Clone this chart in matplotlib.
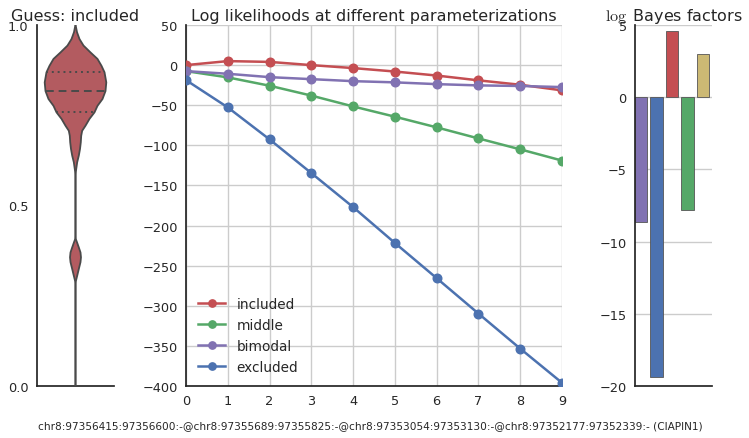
import matplotlib
matplotlib.use("Agg")
import matplotlib.pyplot as plt
import numpy as np

# ---------------- data ----------------
# violin (Guess: included) profile: y positions and relative half-widths (max = 1)
violin_y = [0.0, 0.285, 0.292, 0.3055, 0.324, 0.343, 0.3565, 0.370, 0.384, 0.398, 0.407, 0.415,
            0.585, 0.592, 0.601, 0.620, 0.638, 0.6565, 0.675, 0.693, 0.707, 0.721, 0.740,
            0.758, 0.776, 0.795, 0.817, 0.841, 0.869, 0.887, 0.906, 0.924, 0.943, 0.961,
            0.980, 0.994, 1.0]
violin_w = [0.0, 0.0, 0.016, 0.055, 0.107, 0.162, 0.178, 0.162, 0.107, 0.049, 0.010, 0.0,
            0.0, 0.010, 0.023, 0.055, 0.107, 0.146, 0.172, 0.185, 0.217, 0.325, 0.455,
            0.617, 0.714, 0.877, 0.974, 1.0, 0.942, 0.844, 0.714, 0.487, 0.260, 0.130,
            0.049, 0.016, 0.0]
violin_median = 0.817
violin_quartiles = [0.758, 0.869]

x_params = list(range(10))
series_names = ["included", "middle", "bimodal", "excluded"]
included = [0, 5, 4, 0, -3.7, -8, -13, -19, -24.5, -31.5]
middle = [-7.5, -15.3, -25.7, -38, -51.5, -64.3, -77.6, -91.4, -105, -119]
bimodal = [-7.5, -10.8, -15, -17.5, -20, -21.5, -23.7, -25.3, -26, -27.4]
excluded = [-18.7, -52.7, -92.6, -134.6, -177, -221.7, -265.6, -309.7, -353.4, -396]
series_values = [included, middle, bimodal, excluded]

bayes_factors = [-8.64, -19.4, 4.6, -7.8, 3.0]

gene_label = ("chr8:97356415:97356600:-@chr8:97355689:97355825:-@chr8:97353054:97353130:-"
              "@chr8:97352177:97352339:- (CIAPIN1)")

# ---------------- style ----------------
plt.rcParams['font.family'] = ['DejaVu Sans']
plt.rcParams['mathtext.fontset'] = 'cm'
text_color = '#262626'
spine_color = '#262626'
grid_color = '#cccccc'

red = '#C44E52'
green = '#55A868'
purple = '#8172B2'
blue = '#4C72B0'
yellow = '#CCB974'
line_colors = [red, green, purple, blue]
bar_colors = [purple, blue, red, green, yellow]

W, H = 749, 439
fig = plt.figure(figsize=(W / 100, H / 100), dpi=100)


def box(x0, x1, ytop, ybot):
    return [x0 / W, (H - ybot) / H, (x1 - x0) / W, (ybot - ytop) / H]


ax1 = fig.add_axes(box(37, 114, 26, 387))
ax2 = fig.add_axes(box(186, 562, 26, 387))
ax3 = fig.add_axes(box(635, 712, 26, 387))

tick_fs = 9.3
title_fs = 11.5

for ax in (ax1, ax2, ax3):
    for s in ('top', 'right'):
        ax.spines[s].set_visible(False)
    for s in ('left', 'bottom'):
        ax.spines[s].set_color(spine_color)
        ax.spines[s].set_linewidth(1.25)
    ax.tick_params(length=0, labelsize=tick_fs, colors=text_color, pad=6)
    ax.set_facecolor('white')

# ---------------- violin ----------------
vy = np.array(violin_y)
vw = np.array(violin_w) * 0.4
violin_fill = '#B35B60'
edge = '#4a4a4a'
ax1.fill_betweenx(vy, -vw, vw, facecolor=violin_fill, edgecolor='none', zorder=2)
ax1.plot(-vw, vy, color=edge, lw=1.3, zorder=3)
ax1.plot(vw, vy, color=edge, lw=1.3, zorder=3)
hw = np.interp(violin_median, vy, vw)
ax1.plot([-hw, hw], [violin_median] * 2, color=edge, lw=1.4, ls=(0, (4, 2.5)), zorder=4)
for q in violin_quartiles:
    hq = np.interp(q, vy, vw)
    ax1.plot([-hq, hq], [q] * 2, color=edge, lw=1.4, ls=(0, (1, 2)), zorder=4)
ax1.set_xlim(-0.5, 0.5)
ax1.set_ylim(0, 1)
ax1.set_yticks([0.0, 0.5, 1.0])
ax1.set_yticklabels(['0.0', '0.5', '1.0'])
ax1.set_xticks([])
ax1.set_title('Guess: included', fontsize=title_fs, color=text_color, pad=3.5)

# ---------------- log likelihoods ----------------
ax2.grid(True, color=grid_color, lw=1, zorder=0)
ax2.set_axisbelow(True)
for name, vals, c in zip(series_names, series_values, line_colors):
    ax2.plot(x_params, vals, color=c, lw=1.8, marker='o', markersize=6.2,
             label=name, zorder=3)
ax2.set_xlim(0, 9)
ax2.set_ylim(-400, 50)
ax2.set_xticks(x_params)
ax2.set_yticks(np.arange(-400, 51, 50))
ax2.set_yticklabels([str(v).replace('-', '\u2212') for v in range(-400, 51, 50)])
ax2.set_title('Log likelihoods at different parameterizations', fontsize=title_fs,
              color=text_color, pad=3.5)
leg = ax2.legend(loc='lower left', frameon=False, fontsize=tick_fs + 0.5,
                 handlelength=2.0, borderaxespad=0.5, labelspacing=0.52,
                 markerscale=0.85, bbox_to_anchor=(0.0, 0.0))
for t in leg.get_texts():
    t.set_color(text_color)

# ---------------- Bayes factors ----------------
ax3.grid(True, axis='y', color=grid_color, lw=1, zorder=0)
ax3.set_axisbelow(True)
ax3.bar(range(len(bayes_factors)), bayes_factors, width=0.8, color=bar_colors,
        edgecolor='#555555', linewidth=0.6, zorder=2)
ax3.set_xlim(-0.4, 4.6)
ax3.set_ylim(-20, 5)
ax3.set_xticks([])
ax3.set_yticks([5, 0, -5, -10, -15, -20])
ax3.set_yticklabels([str(v).replace('-', '\u2212') for v in [5, 0, -5, -10, -15, -20]])
ax3.set_title(r'$\log$ Bayes factors', fontsize=title_fs, color=text_color, pad=3.5)

fig.text(370 / W, (H - 426) / H, gene_label, fontsize=7.55, color=text_color,
         ha='center', va='center')

fig.savefig('out.png', dpi=100)
